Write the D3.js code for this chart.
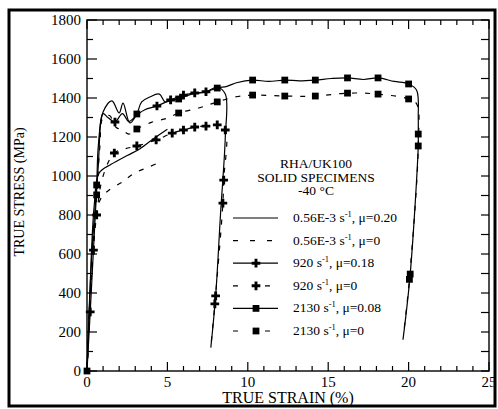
<!DOCTYPE html>
<html>
<head>
<meta charset="utf-8">
<script src="https://cdn.jsdelivr.net/npm/d3@7"></script>
<style>
  body { margin: 0; background: #fff; }
  svg { font-family: "Liberation Serif", "DejaVu Serif", serif; }
</style>
</head>
<body>
<div class="chart"></div>
<script>
// tick values
const xTicks = [0, 5, 10, 15, 20, 25]
const yTicks = [0, 200, 400, 600, 800, 1000, 1200, 1400, 1600, 1800]

// 0.56E-3 s-1, mu=0.20 (solid, no marks)
const qsFric = [[0,0],[0.2,450],[0.45,850],[0.75,1015],[1.5,1060],[2.5,1105],[3.3,1140],[4.2,1195],[5.0,1240]]
// 0.56E-3 s-1, mu=0 (dashed)
const qsNoFric = [[0,0],[0.25,450],[0.55,800],[0.9,890],[1.4,930],[2.2,969],[2.9,1012],[3.8,1045],[4.7,1075]]

// 920 s-1, mu=0.18 (solid + crosses)
const midFric = [[0,0],[0.2,303],[0.4,620],[0.7,1050],[1.0,1320],[1.3,1300],[1.74,1277],[2.2,1320],[2.6,1280],[3.1,1313],[3.6,1340],[4.35,1359],[5.2,1390],[6.0,1415],[6.7,1426],[7.4,1432],[8.1,1455],[8.6,1420],[8.6,1200],[8.3,800],[8.0,385],[7.7,120]]
const midFricMarks = [[0.2,303],[0.4,620],[1.74,1277],[4.35,1359],[5.2,1390],[6.0,1415],[6.7,1426],[7.4,1432],[8.0,385]]
// 920 s-1, mu=0 (dashed + crosses)
const midNoFric = [[0,0],[0.3,520],[0.6,800],[1.0,1000],[1.7,1118],[2.4,1140],[3.1,1154],[4.3,1185],[5.3,1220],[6.0,1236],[6.7,1251],[7.4,1256],[8.1,1262],[8.6,1236],[8.5,979],[8.45,861],[7.95,344],[7.7,123]]
const midNoFricMarks = [[0.6,800],[1.7,1118],[3.1,1154],[4.3,1185],[5.3,1220],[6.0,1236],[6.7,1251],[7.4,1256],[8.1,1262],[8.6,1236],[8.5,979],[8.45,861],[7.95,344]]

// 2130 s-1, mu=0.08 (solid + squares)
const highFric = [[0,0],[0.3,600],[0.6,954],[0.7,1150],[1.0,1328],[1.55,1385],[2.0,1323],[2.24,1374],[2.67,1272],[3.1,1318],[3.4,1380],[3.9,1405],[4.5,1420],[4.85,1380],[5.3,1390],[5.7,1395],[6.5,1420],[7.3,1430],[8.1,1451],[8.7,1460],[9.3,1478],[10.3,1492],[11.3,1485],[12.3,1492],[13.2,1488],[14.2,1492],[15.2,1500],[16.2,1503],[17.2,1495],[18.1,1503],[19.1,1485],[20.0,1472],[20.5,1440],[20.6,1300],[20.6,1215],[20.6,1154],[20.1,497],[19.65,160]]
const highFricMarks = [[0,0],[0.6,954],[3.1,1318],[5.7,1395],[8.1,1451],[10.3,1492],[12.3,1492],[14.2,1492],[16.2,1503],[18.1,1503],[20.0,1472],[20.6,1215],[20.1,497]]
// 2130 s-1, mu=0 (dashed + squares)
const highNoFric = [[0,0],[0.3,520],[0.6,903],[0.8,1150],[1.0,1300],[1.4,1310],[1.8,1250],[2.2,1236],[2.6,1215],[3.1,1241],[4.0,1275],[5.0,1297],[5.7,1323],[7.0,1350],[8.1,1380],[9.2,1405],[10.3,1415],[12.3,1410],[14.2,1410],[16.2,1425],[18.1,1420],[20.0,1395],[20.5,1370],[20.6,1154],[20.05,470],[19.7,200]]
const highNoFricMarks = [[0.6,903],[3.1,1241],[5.7,1323],[8.1,1380],[10.3,1415],[12.3,1410],[14.2,1410],[16.2,1425],[18.1,1420],[20.0,1395],[20.6,1154],[20.05,470]]

// legend labels
const legendRates = ["0.56E-3", "0.56E-3", "920", "920", "2130", "2130"]
const legendMu = ["0.20", "0", "0.18", "0", "0.08", "0"]

const series = [
  {line: qsFric, marks: [], dashed: false, sym: null},
  {line: qsNoFric, marks: [], dashed: true, sym: null},
  {line: midFric, marks: midFricMarks, dashed: false, sym: "cross"},
  {line: midNoFric, marks: midNoFricMarks, dashed: true, sym: "cross"},
  {line: highFric, marks: highFricMarks, dashed: false, sym: "square"},
  {line: highNoFric, marks: highNoFricMarks, dashed: true, sym: "square"}
]

let w = 498
let h = 409
let padL = 87, padR = 489, padT = 20, padB = 371

let svg = d3.select(".chart")
  .append("svg")
  .attr("width", w)
  .attr("height", h)

// outer frame
svg.append("rect")
  .attr("x", 9).attr("y", 10).attr("width", 486).attr("height", 396)
  .attr("fill", "none").attr("stroke", "#000").attr("stroke-width", 3)

const xScale = d3.scaleLinear().domain([0, 25]).range([padL, padR])
const yScale = d3.scaleLinear().domain([0, 1800]).range([padB, padT])

// plot box
svg.append("rect")
  .attr("x", padL).attr("y", padT).attr("width", padR - padL).attr("height", padB - padT)
  .attr("fill", "none").attr("stroke", "#000").attr("stroke-width", 1.4)

// ticks: inward, major + minor
const xMinor = d3.range(0, 26, 1)
const yMinor = d3.range(0, 1801, 100)
const tickG = svg.append("g").attr("stroke", "#000").attr("stroke-width", 1.2)
xMinor.forEach(v => {
  let len = v % 5 === 0 ? 9 : 5
  tickG.append("line").attr("x1", xScale(v)).attr("x2", xScale(v)).attr("y1", padB).attr("y2", padB - len)
  tickG.append("line").attr("x1", xScale(v)).attr("x2", xScale(v)).attr("y1", padT).attr("y2", padT + len)
})
yMinor.forEach(v => {
  let len = v % 200 === 0 ? 10 : 6
  tickG.append("line").attr("x1", padL).attr("x2", padL + len).attr("y1", yScale(v)).attr("y2", yScale(v))
  tickG.append("line").attr("x1", padR).attr("x2", padR - 8).attr("y1", yScale(v)).attr("y2", yScale(v))
})

// tick labels
svg.selectAll(".xlab")
  .data(xTicks)
  .enter()
  .append("text")
  .attr("x", d => xScale(d)).attr("y", padB + 16)
  .attr("text-anchor", "middle").style("font-size", "15px")
  .text(d => d)
svg.selectAll(".ylab")
  .data(yTicks)
  .enter()
  .append("text")
  .attr("x", padL - 6).attr("y", d => yScale(d) + 5)
  .attr("text-anchor", "end").style("font-size", "15px")
  .text(d => d)

// axis titles
svg.append("text")
  .attr("x", 288).attr("y", 403)
  .attr("text-anchor", "middle").style("font-size", "16px")
  .text("TRUE STRAIN (%)")
svg.append("text")
  .attr("transform", "translate(24,192) rotate(-90)")
  .attr("text-anchor", "middle").style("font-size", "14px")
  .text("TRUE STRESS (MPa)")

// curves
const line = d3.line()
  .x(d => xScale(d[0]))
  .y(d => yScale(d[1]))
  .curve(d3.curveCatmullRom.alpha(0.5))

const cross = d3.symbol().type(d3.symbolCross).size(42)
const square = d3.symbol().type(d3.symbolSquare).size(46)

series.forEach(s => {
  svg.append("path")
    .attr("d", line(s.line))
    .attr("fill", "none").attr("stroke", "#000").attr("stroke-width", 1.2)
    .attr("stroke-dasharray", s.dashed ? "5,8" : null)
  svg.selectAll(null)
    .data(s.marks)
    .enter()
    .append("path")
    .attr("d", s.sym === "cross" ? cross() : square())
    .attr("transform", d => "translate(" + xScale(d[0]) + "," + yScale(d[1]) + ")")
    .attr("fill", "#000")
})

// legend
const legTitle = ["RHA/UK100", "SOLID SPECIMENS", "-40 \u00B0C"]
svg.selectAll(".legt")
  .data(legTitle)
  .enter()
  .append("text")
  .attr("x", 316).attr("y", (d, i) => 168 + i * 13.5)
  .attr("text-anchor", "middle").style("font-size", "13.5px")
  .text(d => d)

series.forEach((s, i) => {
  let y = 218 + i * 22.6
  svg.append("line")
    .attr("x1", 233).attr("x2", 278).attr("y1", y).attr("y2", y)
    .attr("stroke", "#000").attr("stroke-width", 1.2)
    .attr("stroke-dasharray", s.dashed ? (s.sym ? "5,27" : "5,12") : null)
  if (s.sym) {
    svg.append("path")
      .attr("d", s.sym === "cross" ? cross() : square())
      .attr("transform", "translate(256," + y + ")")
      .attr("fill", "#000")
  }
  let t = svg.append("text")
    .attr("x", 293).attr("y", y + 4)
    .style("font-size", "13.5px")
  t.append("tspan").text(legendRates[i] + " s")
  t.append("tspan").attr("dy", -5).style("font-size", "8.5px").text("-1")
  t.append("tspan").attr("dy", 5).text(", \u03BC=" + legendMu[i])
})
</script>
</body>
</html>
